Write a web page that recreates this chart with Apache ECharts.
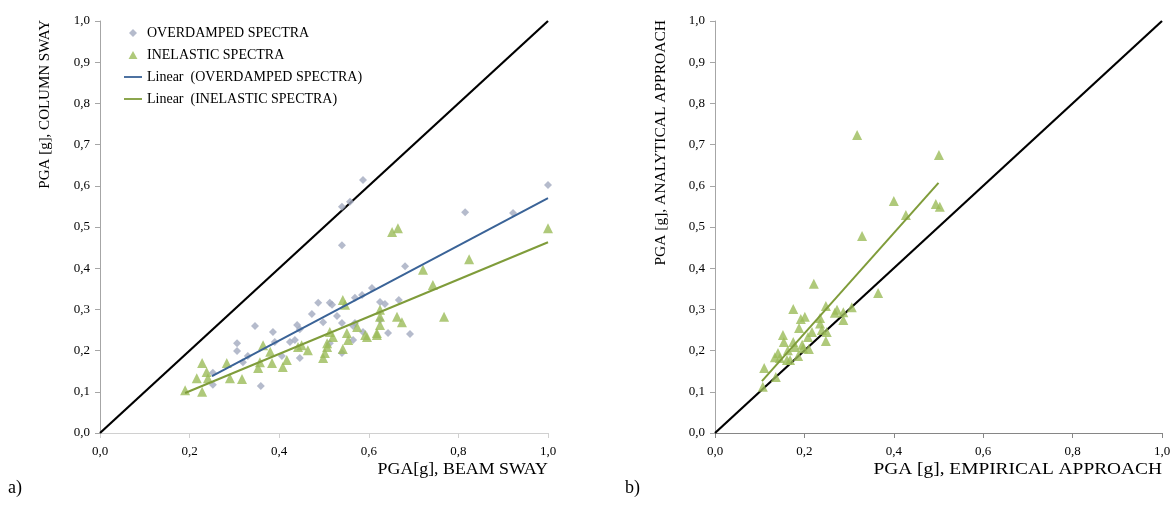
<!DOCTYPE html>
<html>
<head>
<meta charset="utf-8">
<script src="https://cdn.jsdelivr.net/npm/echarts@6/dist/echarts.min.js"></script>
<style>html,body{margin:0;padding:0;background:#fff}#c{width:1176px;height:507px}</style>
</head>
<body>
<div id="c"></div>
<script>
// ---- data ----
const xTicks = [0, 0.2, 0.4, 0.6, 0.8, 1.0];
const yTicks = [0, 0.1, 0.2, 0.3, 0.4, 0.5, 0.6, 0.7, 0.8, 0.9, 1.0];

const overdampedX = [0.252,0.252,0.306,0.306,0.319,0.330,0.346,0.359,0.386,0.390,0.406,0.424,0.435,0.440,0.446,0.446,0.473,0.487,0.498,0.513,0.518,0.529,0.540,0.513,0.540,0.565,0.569,0.565,0.587,0.569,0.585,0.607,0.625,0.636,0.625,0.643,0.667,0.681,0.692,0.540,0.540,0.558,0.587,0.815,0.922,1.000];
const overdampedY = [0.117,0.146,0.218,0.199,0.172,0.187,0.260,0.114,0.245,0.221,0.187,0.221,0.226,0.262,0.252,0.182,0.289,0.316,0.269,0.316,0.311,0.284,0.267,0.218,0.194,0.260,0.267,0.226,0.245,0.328,0.335,0.352,0.318,0.313,0.274,0.243,0.323,0.405,0.240,0.456,0.549,0.561,0.614,0.536,0.534,0.602];

const inelasticX = [0.190,0.228,0.216,0.228,0.238,0.241,0.283,0.290,0.317,0.353,0.357,0.364,0.380,0.384,0.408,0.417,0.442,0.450,0.464,0.498,0.502,0.507,0.507,0.513,0.520,0.542,0.547,0.542,0.551,0.554,0.574,0.592,0.596,0.618,0.618,0.625,0.625,0.625,0.652,0.665,0.663,0.674,0.721,0.743,0.768,0.824,1.000];
const inelasticY = [0.104,0.170,0.133,0.100,0.148,0.133,0.170,0.133,0.131,0.158,0.172,0.213,0.197,0.170,0.160,0.177,0.209,0.213,0.201,0.182,0.194,0.209,0.218,0.245,0.233,0.323,0.311,0.204,0.243,0.226,0.257,0.238,0.233,0.243,0.238,0.262,0.299,0.282,0.488,0.497,0.282,0.269,0.396,0.359,0.282,0.422,0.497];

const trendOverdampedX = [0.25, 1.0];
const trendOverdampedY = [0.138, 0.570];
const trendInelasticX = [0.19, 1.0];
const trendInelasticY = [0.097, 0.463];

const analyticalX = [0.318,0.501,0.400,0.427,0.494,0.503,0.329,0.221,0.365,0.175,0.248,0.273,0.268,0.287,0.306,0.287,0.235,0.201,0.192,0.188,0.235,0.217,0.239,0.250,0.152,0.154,0.175,0.179,0.208,0.248,0.195,0.197,0.210,0.163,0.141,0.134,0.145,0.161,0.168,0.186,0.110,0.136,0.107];
const analyticalY = [0.723,0.675,0.563,0.529,0.556,0.549,0.478,0.362,0.340,0.301,0.308,0.299,0.292,0.293,0.305,0.274,0.279,0.282,0.277,0.255,0.266,0.245,0.250,0.245,0.238,0.221,0.221,0.209,0.233,0.223,0.214,0.206,0.204,0.201,0.194,0.184,0.182,0.177,0.177,0.187,0.158,0.136,0.112];
const trendAnalyticalX = [0.105, 0.50];
const trendAnalyticalY = [0.126, 0.607];

const diagonalX = [0, 1];
const diagonalY = [0, 1];

const legendNames = ['OVERDAMPED SPECTRA', 'INELASTIC SPECTRA', 'Linear  (OVERDAMPED SPECTRA)', 'Linear  (INELASTIC SPECTRA)'];

// ---- build ----
const zip = (xs, ys) => xs.map((x, i) => [x, ys[i]]);
const FONT = 'Liberation Serif';
const fmt = v => v.toFixed(1).replace('.', ',');
const lineIcon = 'path://M0,0 L40,0 L40,4 L0,4 Z';
const diamondIcon = 'path://M5,0 L10,5 L5,10 L0,5 Z';
const triangleIcon = 'path://M5,0 L10,9 L0,9 Z';

function xAxis(gi, lineColor) {
  return {
    type: 'value', gridIndex: gi, min: 0, max: 1, interval: 0.2,
    axisLine: { show: true, onZero: false, lineStyle: { color: lineColor, width: 1 } },
    axisTick: { show: true, length: 5, lineStyle: { color: lineColor } },
    splitLine: { show: false },
    axisLabel: { formatter: fmt, fontFamily: FONT, fontSize: 13, color: '#000', margin: 12 }
  };
}
function yAxis(gi) {
  return {
    type: 'value', gridIndex: gi, min: 0, max: 1, interval: 0.1,
    axisLine: { show: true, onZero: false, lineStyle: { color: '#a6a6a6', width: 1 } },
    axisTick: { show: true, length: 5, lineStyle: { color: '#a6a6a6' } },
    splitLine: { show: false },
    axisLabel: { formatter: fmt, fontFamily: FONT, fontSize: 13, color: '#000', margin: 10 }
  };
}

const option = {
  animation: false,
  backgroundColor: '#fff',
  grid: [
    { left: 100, top: 21, width: 448, height: 412 },
    { left: 715, top: 21, width: 447, height: 412 }
  ],
  xAxis: [xAxis(0, '#d0d0d0'), xAxis(1, '#868686')],
  yAxis: [yAxis(0), yAxis(1)],
  legend: {
    data: [
      { name: legendNames[0], icon: diamondIcon },
      { name: legendNames[1], icon: triangleIcon },
      { name: legendNames[2], icon: lineIcon },
      { name: legendNames[3], icon: lineIcon }
    ],
    orient: 'vertical', left: 124, top: 25, itemGap: 6, padding: 0,
    itemWidth: 18, itemHeight: 8,
    textStyle: { fontFamily: FONT, fontSize: 14, color: '#000', lineHeight: 16 }
  },
  graphic: [
    { type: 'text', left: 8, top: 479, style: { text: 'a)', font: '18px "Liberation Serif"', fill: '#000' } },
    { type: 'text', left: 625, top: 479, style: { text: 'b)', font: '18px "Liberation Serif"', fill: '#000' } },
    { type: 'text', x: 548, y: 470, scaleX: 1.05, style: { text: 'PGA[g], BEAM SWAY', font: '17px "Liberation Serif"', fill: '#000', align: 'right', verticalAlign: 'middle' } },
    { type: 'text', x: 1162, y: 470, scaleX: 1.14, style: { text: 'PGA [g], EMPIRICAL APPROACH', font: '17px "Liberation Serif"', fill: '#000', align: 'right', verticalAlign: 'middle' } },
    { type: 'text', x: 45, y: 20, rotation: Math.PI / 2, style: { text: 'PGA [g], COLUMN SWAY', font: '15px "Liberation Serif"', fill: '#000', align: 'right', verticalAlign: 'middle' } },
    { type: 'text', x: 661, y: 20, rotation: Math.PI / 2, style: { text: 'PGA [g], ANALYTICAL APPROACH', font: '15.5px "Liberation Serif"', fill: '#000', align: 'right', verticalAlign: 'middle' } }
  ],
  series: [
    { type: 'line', name: 'diag1', xAxisIndex: 0, yAxisIndex: 0, data: zip(diagonalX, diagonalY), symbol: 'none', lineStyle: { color: '#000', width: 2.2 }, silent: true, z: 1 },
    { type: 'scatter', name: legendNames[0], xAxisIndex: 0, yAxisIndex: 0, data: zip(overdampedX, overdampedY), symbol: 'diamond', symbolSize: 8, itemStyle: { color: '#a2aabf' }, z: 3 },
    { type: 'scatter', name: legendNames[1], xAxisIndex: 0, yAxisIndex: 0, data: zip(inelasticX, inelasticY), symbol: 'triangle', symbolSize: 10, itemStyle: { color: '#9bbb59' }, z: 3 },
    { type: 'line', name: legendNames[2], xAxisIndex: 0, yAxisIndex: 0, data: zip(trendOverdampedX, trendOverdampedY), symbol: 'none', lineStyle: { color: '#3a6397', width: 2 }, itemStyle: { color: '#3a6397' }, z: 4 },
    { type: 'line', name: legendNames[3], xAxisIndex: 0, yAxisIndex: 0, data: zip(trendInelasticX, trendInelasticY), symbol: 'none', lineStyle: { color: '#7f9c3a', width: 2 }, itemStyle: { color: '#7f9c3a' }, z: 4 },
    { type: 'line', name: 'diag2', xAxisIndex: 1, yAxisIndex: 1, data: zip(diagonalX, diagonalY), symbol: 'none', lineStyle: { color: '#000', width: 2.2 }, silent: true, z: 1 },
    { type: 'scatter', name: 'analytical', xAxisIndex: 1, yAxisIndex: 1, data: zip(analyticalX, analyticalY), symbol: 'triangle', symbolSize: 10, itemStyle: { color: '#9bbb59' }, z: 3 },
    { type: 'line', name: 'trendAnalytical', xAxisIndex: 1, yAxisIndex: 1, data: zip(trendAnalyticalX, trendAnalyticalY), symbol: 'none', lineStyle: { color: '#7f9c3a', width: 2 }, z: 4 }
  ]
};
const chart = echarts.init(document.getElementById('c'), null, { renderer: 'canvas' });
chart.setOption(option);
</script>
</body>
</html>
